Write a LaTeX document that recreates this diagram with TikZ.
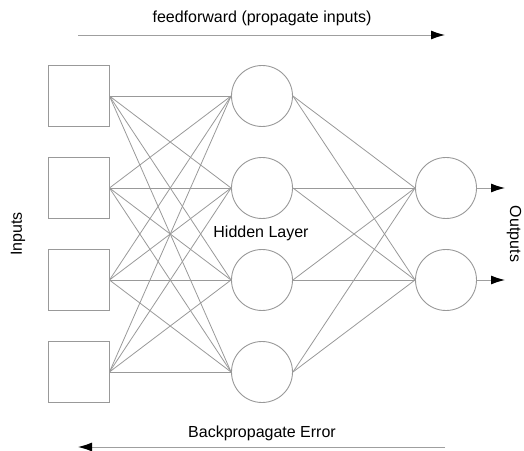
\documentclass[tikz,border=0pt]{standalone}
\usepackage{fontspec}
\setmainfont{Liberation Sans}
\usetikzlibrary{arrows.meta, positioning}

\tikzset{
  unit/.style={draw=gray!80, line width=0.9pt, minimum size=61pt, inner sep=0pt},
  inputbox/.style={unit, rectangle},
  neuron/.style={unit, circle},
  link/.style={draw=gray!80, line width=0.8pt},
  flow/.style={draw=gray!75, line width=0.9pt, -{Latex[black, length=14pt, width=9pt]}},
  label/.style={font=\fontsize{16}{19}\selectfont}
}

\begin{document}
\begin{tikzpicture}[x=1pt, y=1pt]
    \useasboundingbox (0,0) rectangle (524,450);

    % Input squares
    \node[inputbox] (in1) at (78.5,354) {};
    \node[inputbox] (in2) at (78.5,262) {};
    \node[inputbox] (in3) at (78.5,170) {};
    \node[inputbox] (in4) at (78.5,78) {};

    % Hidden layer circles
    \node[neuron] (hid1) at (262,354) {};
    \node[neuron] (hid2) at (262,262) {};
    \node[neuron] (hid3) at (262,170) {};
    \node[neuron] (hid4) at (262,78) {};

    % Output circles
    \node[neuron] (out1) at (446,262) {};
    \node[neuron] (out2) at (446,170) {};

    % Connections
    \foreach \i in {1,...,4}
        \foreach \j in {1,...,4}
            \draw[link] (in\i.east) -- (hid\j.west);
    \foreach \j in {1,...,4}
        \foreach \k in {1,2}
            \draw[link] (hid\j.east) -- (out\k.west);

    % Output arrows
    \coordinate (end1) at (505,262);
    \coordinate (end2) at (505,170);
    \draw[flow] (out1.east) -- (end1);
    \draw[flow] (out2.east) -- (end2);

    % Labels
    \node[label, rotate=90] (inputs) at (18,216) {Inputs};
    \node[label, rotate=-90] (outputs) at (514,216) {Outputs};
    \node[label] (hidden) at (261,217) {Hidden Layer};

    % Feedforward arrow
    \node[label] (fwd) at (262,432) {feedforward (propagate inputs)};
    \coordinate (fwdA) at (78,415);
    \coordinate (fwdB) at (445,415);
    \draw[flow] (fwdA) -- (fwdB);

    % Backpropagation arrow
    \node[label] (back) at (262,17) {Backpropagate Error};
    \coordinate (backA) at (445,3);
    \coordinate (backB) at (78,3);
    \draw[flow] (backA) -- (backB);
\end{tikzpicture}
\end{document}
